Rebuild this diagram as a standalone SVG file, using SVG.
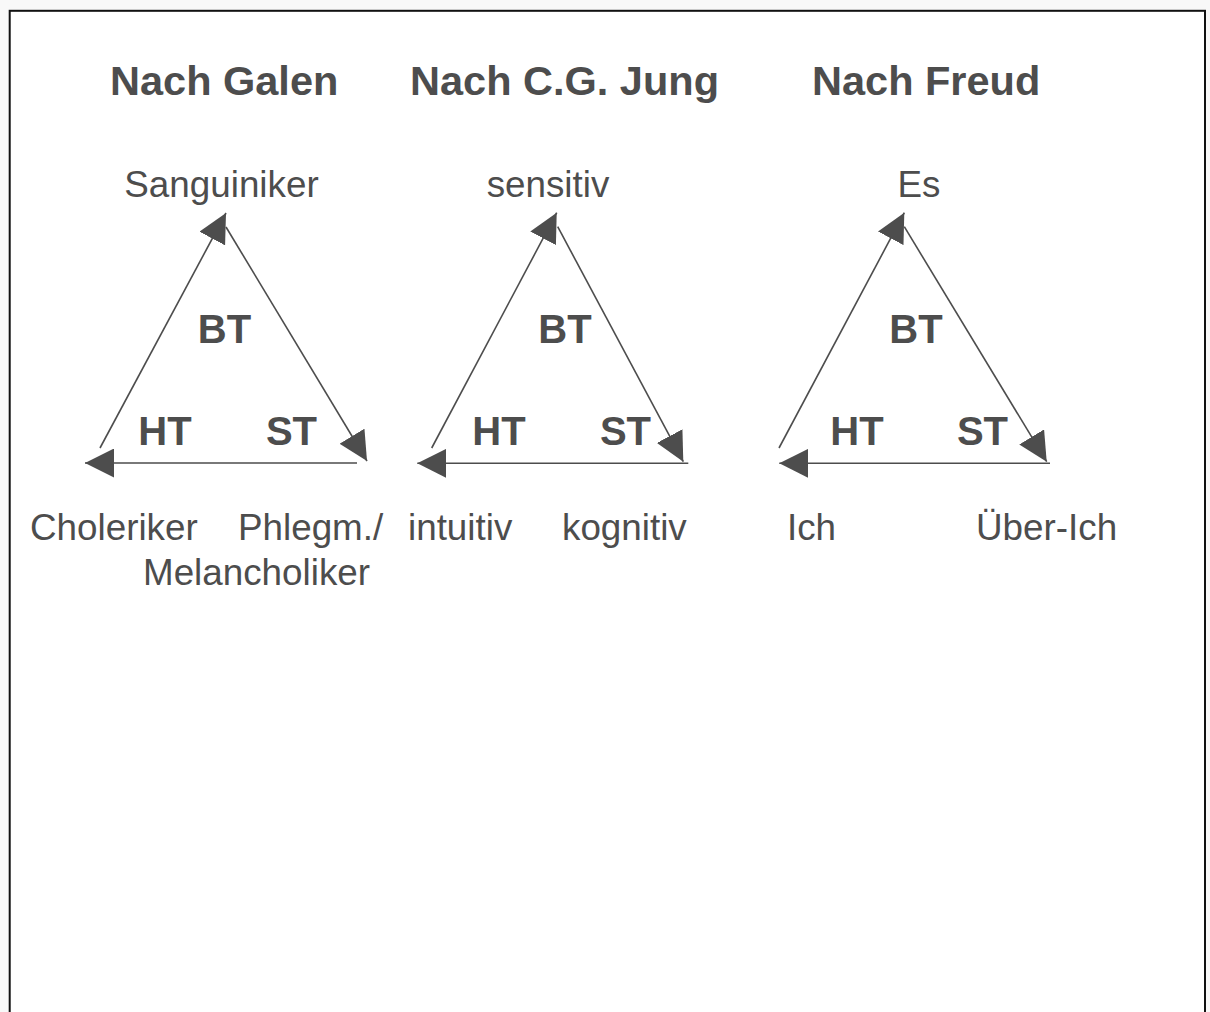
<svg xmlns="http://www.w3.org/2000/svg" width="1210" height="1012" viewBox="0 0 1210 1012">
<defs>
<style>
.title{font-family:"Liberation Sans",Arial,sans-serif;font-weight:bold;font-size:41.5px;fill:#4d4d4d}
.tag{font-family:"Liberation Sans",Arial,sans-serif;font-weight:bold;font-size:40px;fill:#4d4d4d;text-anchor:middle}
.lbl{font-family:"Liberation Sans",Arial,sans-serif;font-size:36.8px;fill:#4d4d4d}
.edge{stroke:#4d4d4d;stroke-width:1.6;fill:none;marker-end:url(#ah)}
</style>
<marker id="ah" markerUnits="userSpaceOnUse" markerWidth="29" markerHeight="29" refX="29" refY="14.5" orient="auto" viewBox="0 0 29 29">
<path d="M0,0 L29,14.5 L0,29 z" fill="#4d4d4d"/>
</marker>
</defs>
<rect x="0" y="0" width="1210" height="1012" fill="#f8f8f8"/>
<rect x="9.7" y="10.8" width="1195.3" height="1020" fill="#ffffff" stroke="#111111" stroke-width="2"/>
<g id="titles">
<text class="title" x="110" y="95">Nach Galen</text>
<text class="title" x="410" y="95">Nach C.G. Jung</text>
<text class="title" x="812" y="95">Nach Freud</text>
</g>
<g id="connectors">
<line class="edge" x1="100" y1="448" x2="226" y2="213"/>
<line class="edge" x1="226" y1="227" x2="367" y2="461"/>
<line class="edge" x1="357" y1="463" x2="85" y2="463"/>
<line class="edge" x1="431.7" y1="448" x2="556.7" y2="212.7"/>
<line class="edge" x1="557.7" y1="226.7" x2="683.3" y2="461.7"/>
<line class="edge" x1="688.3" y1="463.3" x2="417.3" y2="463.3"/>
<line class="edge" x1="779" y1="448" x2="904.3" y2="212.7"/>
<line class="edge" x1="904.3" y1="226.7" x2="1046.7" y2="461.7"/>
<line class="edge" x1="1050" y1="463.3" x2="779.3" y2="463.3"/>
</g>
<g id="galen">
<text class="lbl" x="221.5" y="197" text-anchor="middle">Sanguiniker</text>
<text class="tag" x="224.5" y="343">BT</text>
<text class="tag" x="165" y="445">HT</text>
<text class="tag" x="291.5" y="445">ST</text>
<text class="lbl" x="30" y="540">Choleriker</text>
<text class="lbl" x="238" y="540">Phlegm./</text>
<text class="lbl" x="143" y="585">Melancholiker</text>
</g>
<g id="jung">
<text class="lbl" x="548" y="197" text-anchor="middle">sensitiv</text>
<text class="tag" x="565" y="343">BT</text>
<text class="tag" x="499" y="445">HT</text>
<text class="tag" x="625.5" y="445">ST</text>
<text class="lbl" x="408" y="540">intuitiv</text>
<text class="lbl" x="562" y="540">kognitiv</text>
</g>
<g id="freud">
<text class="lbl" x="919" y="197" text-anchor="middle">Es</text>
<text class="tag" x="916" y="343">BT</text>
<text class="tag" x="857" y="445">HT</text>
<text class="tag" x="982.5" y="445">ST</text>
<text class="lbl" x="787" y="540">Ich</text>
<text class="lbl" x="976" y="540">Über-Ich</text>
</g>
</svg>
